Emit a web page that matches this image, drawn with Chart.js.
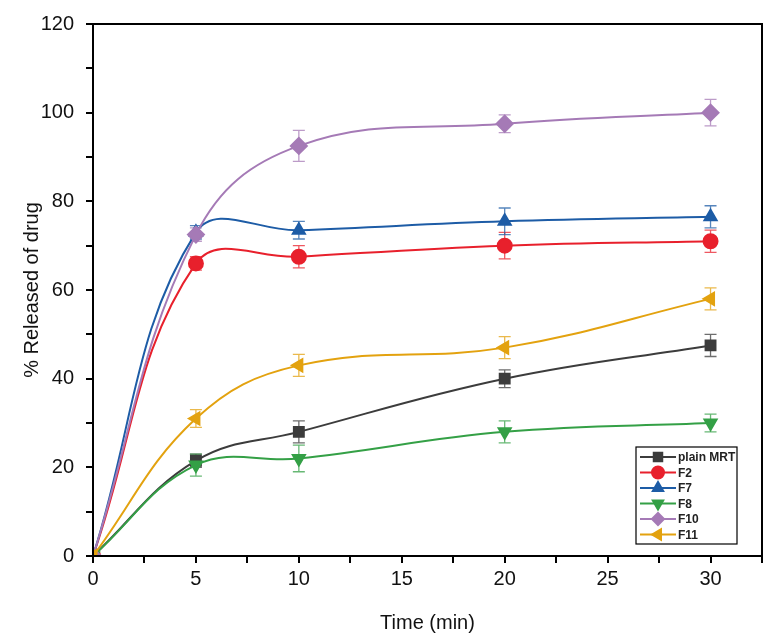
<!DOCTYPE html>
<html>
<head>
<meta charset="utf-8">
<script src="https://cdn.jsdelivr.net/npm/chart.js@4.4.0/dist/chart.umd.min.js"></script>
<style>
  body { margin: 0; background: #fff; }
  #wrap { position: relative; width: 780px; height: 643px; }
</style>
</head>
<body>
<div id="wrap"><canvas id="releaseChart"></canvas></div>
<script>
// time points (min)
const times = [0, 5, 10, 20, 30];

// series labels and values (% released)
const seriesNames = ['plain MRT', 'F2', 'F7', 'F8', 'F10', 'F11'];
const plainMRT = [0, 21.5, 28, 40, 47.5];
const f2 = [0, 66, 67.5, 70, 71];
const f7 = [0, 73, 73.5, 75.5, 76.5];
const f8 = [0, 20.5, 22, 28, 30];
const f10 = [0, 72.5, 92.5, 97.5, 100];
const f11 = [0, 31, 43, 47, 58];

// standard deviations
const plainMRTErr = [0, 1.5, 2.5, 2, 2.5];
const f2Err = [0, 1.5, 2.5, 3, 2.5];
const f7Err = [0, 1.5, 2, 3, 2.5];
const f8Err = [0, 2.5, 3, 2.5, 2];
const f10Err = [0, 1.5, 3.5, 2, 3];
const f11Err = [0, 2, 2.5, 2.5, 2.5];

// axis ticks
const xTickLabels = [0, 5, 10, 15, 20, 25, 30];
const yTickLabels = [0, 20, 40, 60, 80, 100, 120];

const values = [plainMRT, f2, f7, f8, f10, f11];
const errors = [plainMRTErr, f2Err, f7Err, f8Err, f10Err, f11Err];
let colors = ['#3c3c3c', '#e8202c', '#1d5ca6', '#34a046', '#a57ab6', '#e3a20f'];
let styles = ['rect', 'circle', 'triangle', 'triangle', 'rectRot', 'triangle'];
let rotations = [0, 0, 0, 180, 0, -90];

function makeDatasets() {
    var arr = [];
    for (let i = 0; i < values.length; ++i) {
        arr.push({
            label: seriesNames[i],
            data: times.map((t, j) => ({x: t, y: values[i][j]})),
            errs: errors[i],
            borderColor: colors[i],
            backgroundColor: colors[i],
            pointBackgroundColor: colors[i],
            pointBorderColor: colors[i],
            pointStyle: styles[i],
            rotation: rotations[i],
            pointRadius: i == 4 ? 8 : 7,
            borderWidth: 2,
            tension: 0.4,
            fill: false,
            order: values.length - i
        })
    }
    return arr;
}

// error bars drawn from the scales
const errorBars = {
    id: 'errorBars',
    beforeDatasetsDraw(chart) {
        const ctx = chart.ctx;
        const xs = chart.scales.x, ys = chart.scales.y;
        chart.data.datasets.forEach((ds) => {
            ctx.save();
            ctx.strokeStyle = ds.borderColor;
            ctx.globalAlpha = 0.75;
            ctx.lineWidth = 1.3;
            ds.data.forEach((p, j) => {
                const e = ds.errs[j];
                if (!e) return;
                const px = xs.getPixelForValue(p.x);
                const top = ys.getPixelForValue(p.y + e);
                const bot = ys.getPixelForValue(p.y - e);
                ctx.beginPath();
                ctx.moveTo(px, top); ctx.lineTo(px, bot);
                ctx.moveTo(px - 6, top); ctx.lineTo(px + 6, top);
                ctx.moveTo(px - 6, bot); ctx.lineTo(px + 6, bot);
                ctx.stroke();
            });
            ctx.restore();
        });
    }
};

// box frame + legend inside plot
const frameLegend = {
    id: 'frameLegend',
    afterDraw(chart) {
        const ctx = chart.ctx;
        const a = chart.chartArea;
        ctx.save();
        ctx.strokeStyle = '#000';
        ctx.lineWidth = 2;
        ctx.strokeRect(a.left, a.top, a.right - a.left, a.bottom - a.top);

        // legend box
        const bx = 636, by = 447, bw = 101, bh = 97;
        ctx.fillStyle = '#fff';
        ctx.fillRect(bx, by, bw, bh);
        ctx.lineWidth = 1.2;
        ctx.strokeRect(bx, by, bw, bh);
        ctx.font = 'bold 12px "Liberation Sans", Arial, sans-serif';
        ctx.textBaseline = 'middle';
        chart.data.datasets.forEach((ds, i) => {
            const yy = by + 10 + i * 15.5;
            ctx.strokeStyle = ds.borderColor;
            ctx.lineWidth = 2;
            ctx.beginPath();
            ctx.moveTo(bx + 4, yy); ctx.lineTo(bx + 40, yy);
            ctx.stroke();
            ctx.fillStyle = ds.borderColor;
            Chart.helpers.drawPoint(ctx, {
                pointStyle: ds.pointStyle,
                rotation: ds.rotation,
                radius: 6,
                borderWidth: 1
            }, bx + 22, yy);
            ctx.fillStyle = '#222';
            ctx.fillText(ds.label, bx + 42, yy + 1);
        });
        ctx.restore();
    }
};

const tickFont = {family: '"Liberation Sans", Arial, sans-serif', size: 20};

new Chart(document.querySelector('#releaseChart').getContext('2d'), {
    type: 'line',
    data: {datasets: makeDatasets()},
    options: {
        responsive: true,
        maintainAspectRatio: false,
        animation: false,
        layout: {padding: {top: 17, right: 18, left: 0, bottom: 0}},
        plugins: {
            legend: {display: false},
            tooltip: {enabled: false}
        },
        scales: {
            x: {
                type: 'linear',
                min: 0,
                max: 32.5,
                afterFit: (s) => { s.height = 87; },
                border: {color: '#000', width: 2},
                grid: {drawOnChartArea: false, tickLength: 7, color: '#000', lineWidth: 2},
                ticks: {
                    stepSize: 2.5,
                    autoSkip: false,
                    maxRotation: 0,
                    padding: 4,
                    color: '#111',
                    font: tickFont,
                    callback: (v) => xTickLabels.includes(v) ? v : ''
                },
                title: {display: true, text: 'Time (min)', color: '#111', font: tickFont, padding: {top: 4, bottom: 8}}
            },
            y: {
                min: 0,
                max: 120,
                afterFit: (s) => { s.width = 93; },
                border: {color: '#000', width: 2},
                grid: {drawOnChartArea: false, tickLength: 7, color: '#000', lineWidth: 2},
                ticks: {
                    stepSize: 10,
                    autoSkip: false,
                    padding: 12,
                    color: '#111',
                    font: tickFont,
                    callback: (v) => yTickLabels.includes(v) ? v : ''
                },
                title: {display: true, text: '% Released of drug', color: '#111', font: tickFont, padding: {top: 20, bottom: 0}}
            }
        }
    },
    plugins: [errorBars, frameLegend]
});
</script>
</body>
</html>
